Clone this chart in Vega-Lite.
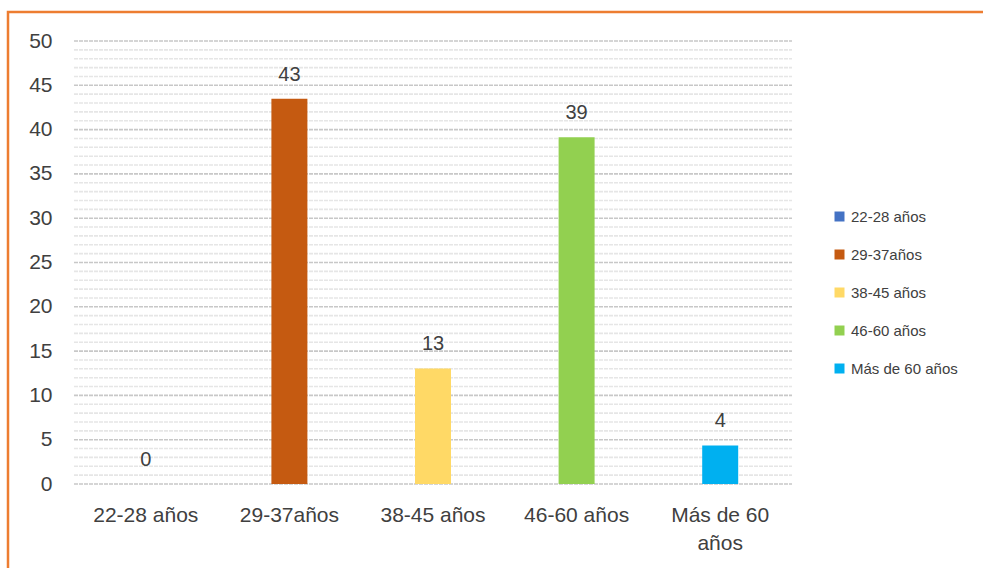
{
  "$schema": "https://vega.github.io/schema/vega-lite/v6.json",
  "autosize": "none",
  "width": 985,
  "height": 565,
  "padding": {"left": 8, "top": 12, "right": 0, "bottom": 0},
  "background": "white",
  "config": {
    "view": {"stroke": "#ED7D31", "strokeWidth": 2.5},
    "font": "Liberation Sans"
  },
  "datasets": {
    "bars": [
      {"grupo": "22-28 años", "valor": 0},
      {"grupo": "29-37años", "valor": 43.48},
      {"grupo": "38-45 años", "valor": 13.04},
      {"grupo": "46-60 años", "valor": 39.13},
      {"grupo": "Más de 60 años", "valor": 4.35}
    ],
    "minor": [
      {"v": 1}, {"v": 2}, {"v": 3}, {"v": 4}, {"v": 6}, {"v": 7}, {"v": 8}, {"v": 9},
      {"v": 11}, {"v": 12}, {"v": 13}, {"v": 14}, {"v": 16}, {"v": 17}, {"v": 18}, {"v": 19},
      {"v": 21}, {"v": 22}, {"v": 23}, {"v": 24}, {"v": 26}, {"v": 27}, {"v": 28}, {"v": 29},
      {"v": 31}, {"v": 32}, {"v": 33}, {"v": 34}, {"v": 36}, {"v": 37}, {"v": 38}, {"v": 39},
      {"v": 41}, {"v": 42}, {"v": 43}, {"v": 44}, {"v": 46}, {"v": 47}, {"v": 48}, {"v": 49}
    ],
    "major": [
      {"v": 0}, {"v": 5}, {"v": 10}, {"v": 15}, {"v": 20}, {"v": 25},
      {"v": 30}, {"v": 35}, {"v": 40}, {"v": 45}, {"v": 50}
    ]
  },
  "layer": [
    {
      "data": {"name": "minor"},
      "mark": {"type": "rule", "stroke": "#e6e6e6", "strokeWidth": 1.6, "strokeDash": [4, 1]},
      "encoding": {
        "y": {"field": "v", "type": "quantitative"},
        "x": {"datum": "22-28 años", "type": "nominal", "bandPosition": 0},
        "x2": {"datum": "Más de 60 años", "bandPosition": 1}
      }
    },
    {
      "data": {"name": "major"},
      "mark": {"type": "rule", "stroke": "#c8c8c8", "strokeWidth": 1.6, "strokeDash": [4, 1]},
      "encoding": {
        "y": {"field": "v", "type": "quantitative"},
        "x": {"datum": "22-28 años", "type": "nominal", "bandPosition": 0},
        "x2": {"datum": "Más de 60 años", "bandPosition": 1}
      }
    },
    {
      "data": {"name": "bars"},
      "mark": {"type": "bar", "size": 36},
      "encoding": {
        "x": {
          "field": "grupo", "type": "nominal", "sort": null,
          "scale": {
            "domain": ["22-28 años", "29-37años", "38-45 años", "46-60 años", "Más de 60 años"],
            "range": [66, 784], "paddingInner": 0, "paddingOuter": 0
          },
          "axis": {
            "title": null, "orient": "bottom", "offset": -81, "domain": false, "ticks": false,
            "labelAngle": 0, "labelAlign": "center", "labelFontSize": 21, "labelColor": "#404040", "labelPadding": 19,
            "labelLineHeight": 28, "labelFont": "Liberation Sans",
            "labelExpr": "datum.label == 'Más de 60 años' ? ['Más de 60', 'años'] : datum.label"
          }
        },
        "y": {
          "field": "valor", "type": "quantitative",
          "scale": {"domain": [0, 50], "range": [472, 29], "nice": false},
          "axis": {
            "title": null, "orient": "left", "offset": -66, "domain": false, "ticks": false, "grid": false,
            "values": [0, 5, 10, 15, 20, 25, 30, 35, 40, 45, 50],
            "labelFontSize": 21, "labelColor": "#404040", "labelPadding": 22, "labelFont": "Liberation Sans"
          }
        },
        "color": {
          "field": "grupo", "type": "nominal", "sort": null,
          "scale": {"range": ["#4472C4", "#C55A11", "#FFD966", "#92D050", "#00B0F0"]},
          "legend": {
            "title": null, "orient": "none", "legendX": 824, "legendY": 197,
            "symbolType": "square", "symbolSize": 100, "symbolStrokeWidth": 0,
            "labelFontSize": 15, "labelColor": "#404040", "rowPadding": 22, "labelFont": "Liberation Sans"
          }
        }
      }
    },
    {
      "data": {"name": "bars"},
      "mark": {"type": "text", "baseline": "bottom", "dy": -14, "fontSize": 20, "color": "#404040", "font": "Liberation Sans"},
      "encoding": {
        "x": {"field": "grupo", "type": "nominal", "sort": null},
        "y": {"field": "valor", "type": "quantitative"},
        "text": {"field": "valor", "type": "quantitative", "format": ".0f"}
      }
    }
  ]
}
